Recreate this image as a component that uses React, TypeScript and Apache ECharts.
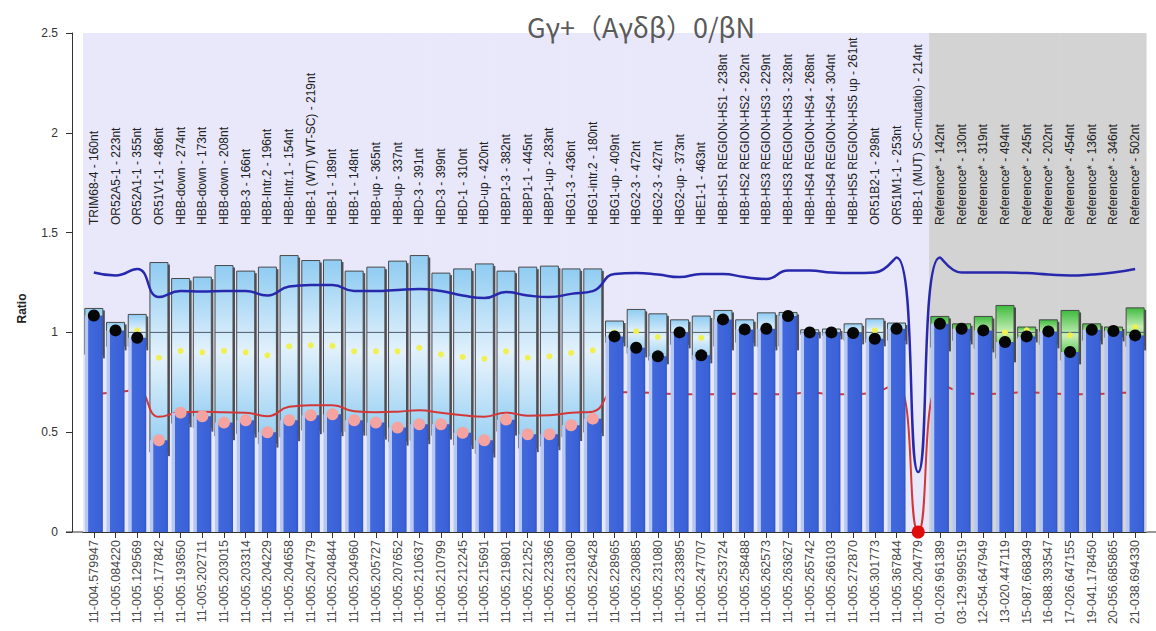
import React, { useEffect, useRef } from 'react';
import * as echarts from 'echarts';

const FONT = '"Liberation Sans", Arial, sans-serif';
const Y_MAX = 2.5;

const probes = [
  'TRIM68-4 - 160nt', 'OR52A5-1 - 223nt', 'OR52A1-1 - 355nt', 'OR51V1-1 - 486nt',
  'HBB-down - 274nt', 'HBB-down - 173nt', 'HBB-down - 208nt', 'HBB-3 - 166nt',
  'HBB-Intr.2 - 196nt', 'HBB-Intr.1 - 154nt', 'HBB-1 (WT) WT-SC) - 219nt', 'HBB-1 - 189nt',
  'HBB-1 - 148nt', 'HBB-up - 365nt', 'HBB-up - 337nt', 'HBD-3 - 391nt',
  'HBD-3 - 399nt', 'HBD-1 - 310nt', 'HBD-up - 420nt', 'HBBP1-3 - 382nt',
  'HBBP1-1 - 445nt', 'HBBP1-up - 283nt', 'HBG1-3 - 436nt', 'HBG1-intr.2 - 180nt',
  'HBG1-up - 409nt', 'HBG2-3 - 472nt', 'HBG2-3 - 427nt', 'HBG2-up - 373nt',
  'HBE1-1 - 463nt', 'HBB-HS1 REGION-HS1 - 238nt', 'HBB-HS2 REGION-HS2 - 292nt', 'HBB-HS3 REGION-HS3 - 229nt',
  'HBB-HS3 REGION-HS3 - 328nt', 'HBB-HS4 REGION-HS4 - 268nt', 'HBB-HS4 REGION-HS4 - 304nt', 'HBB-HS5 REGION-HS5 up - 261nt',
  'OR51B2-1 - 298nt', 'OR51M1-1 - 253nt', 'HBB-1 (MUT) SC-mutatio) - 214nt',
  'Reference* - 142nt', 'Reference* - 130nt', 'Reference* - 319nt', 'Reference* - 494nt',
  'Reference* - 245nt', 'Reference* - 202nt', 'Reference* - 454nt', 'Reference* - 136nt',
  'Reference* - 346nt', 'Reference* - 502nt',
];

const positions = [
  '11-004.579947', '11-005.084220', '11-005.129569', '11-005.177842', '11-005.193650',
  '11-005.202711', '11-005.203015', '11-005.203314', '11-005.204229', '11-005.204658',
  '11-005.204779', '11-005.204844', '11-005.204960', '11-005.205727', '11-005.207652',
  '11-005.210637', '11-005.210799', '11-005.212245', '11-005.215691', '11-005.219801',
  '11-005.221252', '11-005.223366', '11-005.231080', '11-005.226428', '11-005.228965',
  '11-005.230885', '11-005.231080', '11-005.233895', '11-005.247707', '11-005.253724',
  '11-005.258488', '11-005.262573', '11-005.263627', '11-005.265742', '11-005.266103',
  '11-005.272870', '11-005.301773', '11-005.367844', '11-005.204779',
  '01-026.961389', '03-129.999519', '12-054.647949', '13-020.447119', '15-087.668349',
  '16-088.393547', '17-026.647155', '19-041.178450', '20-056.685865', '21-038.694330',
];

// 's' = sample probe, 'r' = reference probe
const groups = [
  's','s','s','s','s','s','s','s','s','s','s','s','s','s','s','s','s','s','s','s',
  's','s','s','s','s','s','s','s','s','s','s','s','s','s','s','s','s','s','s',
  'r','r','r','r','r','r','r','r','r','r',
];

// measured ratio
const ratio = [
  1.085, 1.01, 0.973, 0.46, 0.598, 0.58, 0.548, 0.56, 0.50, 0.56,
  0.585, 0.59, 0.56, 0.548, 0.523, 0.54, 0.54, 0.497, 0.46, 0.563,
  0.49, 0.49, 0.535, 0.568, 0.98, 0.923, 0.88, 1.0, 0.885, 1.065,
  1.015, 1.018, 1.082, 1.0, 1.0, 0.997, 0.968, 1.018, 0,
  1.043, 1.018, 1.01, 0.952, 0.98, 1.005, 0.902, 1.013, 1.007, 0.985,
];

// 'n' normal, 'd' deletion, 'z' zero
const status = [
  'n','n','n','d','d','d','d','d','d','d','d','d','d','d','d','d','d','d','d','d',
  'd','d','d','d','n','n','n','n','n','n','n','n','n','n','n','n','n','n','z',
  'n','n','n','n','n','n','n','n','n','n',
];

const boxLow = [
  0.89, 0.93, 0.93, 0.40, 0.545, 0.523, 0.48, 0.493, 0.443, 0.475,
  0.51, 0.50, 0.503, 0.483, 0.453, 0.46, 0.483, 0.436, 0.393, 0.503,
  0.42, 0.43, 0.476, 0.50, 0.95, 0.895, 0.86, 0.94, 0.865, 0.93,
  0.95, 0.93, 0.93, 0.99, 0.985, 0.96, 0.95, 0.96, null,
  0.925, 0.96, 0.92, 0.87, 0.97, 0.94, 0.86, 0.96, 0.975, 0.93,
];

const boxHigh = [
  1.12, 1.05, 1.09, 1.35, 1.27, 1.277, 1.335, 1.307, 1.327, 1.385,
  1.36, 1.363, 1.307, 1.327, 1.357, 1.385, 1.297, 1.318, 1.343, 1.307,
  1.327, 1.332, 1.318, 1.318, 1.057, 1.115, 1.093, 1.063, 1.082, 1.11,
  1.063, 1.098, 1.10, 1.013, 1.017, 1.043, 1.068, 1.047, null,
  1.08, 1.043, 1.08, 1.135, 1.027, 1.063, 1.11, 1.043, 1.027, 1.123,
];

const boxMean = [
  1.005, 0.99, 1.01, 0.873, 0.907, 0.90, 0.907, 0.90, 0.885, 0.93,
  0.935, 0.932, 0.905, 0.905, 0.905, 0.923, 0.89, 0.877, 0.868, 0.905,
  0.873, 0.88, 0.897, 0.91, 1.0, 1.005, 0.977, 1.0, 0.973, 1.02,
  1.005, 1.015, 1.015, 1.0, 1.0, 1.0, 1.01, 1.003, null,
  1.0, 1.0, 1.0, 1.0, 1.01, 1.0, 0.985, 1.0, 1.0, 1.027,
];

const upperLimit = [
  1.30, 1.285, 1.318, 1.177, 1.207, 1.205, 1.207, 1.207, 1.185, 1.23,
  1.238, 1.238, 1.207, 1.207, 1.213, 1.217, 1.207, 1.185, 1.172, 1.202,
  1.185, 1.177, 1.193, 1.207, 1.293, 1.298, 1.29, 1.277, 1.293, 1.293,
  1.277, 1.268, 1.31, 1.31, 1.30, 1.297, 1.30, 1.375, 0.30,
  1.375, 1.30, 1.30, 1.30, 1.297, 1.29, 1.285, 1.29, 1.30, 1.318,
];

const lowerLimit = [
  0.69, 0.70, 0.71, 0.577, 0.60, 0.603, 0.60, 0.598, 0.58, 0.627,
  0.635, 0.635, 0.605, 0.60, 0.603, 0.61, 0.597, 0.585, 0.578, 0.598,
  0.583, 0.585, 0.597, 0.603, 0.70, 0.70, 0.695, 0.69, 0.69, 0.69,
  0.695, 0.69, 0.69, 0.70, 0.69, 0.69, 0.70, 0.745, 0,
  0.745, 0.70, 0.69, 0.695, 0.70, 0.695, 0.69, 0.69, 0.695, 0.70,
];

const TITLE = 'Gγ+（Aγδβ）0/βN';

function buildOption() {
  const G = echarts.graphic;
  const barGrad = new G.LinearGradient(0, 0, 1, 0, [
    { offset: 0, color: '#b6c8f4' },
    { offset: 0.17, color: '#b6c8f4' },
    { offset: 0.21, color: '#4168dc' },
    { offset: 0.88, color: '#3a61d6' },
    { offset: 1, color: '#2e53c4' },
  ]);
  const boxItems: any[] = [];
  boxLow.forEach((lo, i) => {
    if (lo != null && boxHigh[i] != null) boxItems.push([i, lo, boxHigh[i]]);
  });
  const dots = (s: string) => ratio.map((v, i) => (status[i] === s ? v : '-'));

  return {
    animation: false,
    backgroundColor: '#ffffff',
    title: {
      text: TITLE,
      left: 636,
      top: 8,
      textAlign: 'center',
      textStyle: { fontSize: 27, fontWeight: 'normal', color: '#5a5a5a', fontFamily: '"Noto Sans CJK SC", "Noto Sans", sans-serif' },
    },
    grid: { left: 83, right: 10, top: 33, bottom: 99 },
    xAxis: {
      type: 'category',
      data: positions,
      boundaryGap: true,
      axisLine: { show: true, lineStyle: { color: '#333', width: 1 } },
      axisTick: { show: true, alignWithLabel: true, length: 6, lineStyle: { color: '#333' } },
      axisLabel: { interval: 0, rotate: 90, margin: 8, fontSize: 12.5, color: '#4a4a4a', fontFamily: FONT },
      splitLine: { show: false },
    },
    yAxis: {
      type: 'value',
      min: 0,
      max: Y_MAX,
      interval: 0.5,
      offset: 11,
      name: 'Ratio',
      nameLocation: 'middle',
      nameGap: 44,
      nameTextStyle: { fontWeight: 'bold', fontSize: 12, color: '#222', fontFamily: FONT, padding: [0, 52, 0, 0] },
      axisLine: { show: true, lineStyle: { color: '#333' } },
      axisTick: { show: true, length: 6, lineStyle: { color: '#333' } },
      axisLabel: { margin: 14, fontSize: 12, color: '#333', fontFamily: FONT },
      splitLine: { show: false },
    },
    graphic: [
      { type: 'line', shape: { x1: 66, y1: 532, x2: 83, y2: 532 }, style: { stroke: '#333', lineWidth: 1 }, silent: true },
      { type: 'line', shape: { x1: 1146, y1: 532, x2: 1156, y2: 532 }, style: { stroke: '#333', lineWidth: 1 }, silent: true },
    ],
    series: [
      {
        type: 'custom',
        name: 'bg',
        silent: true,
        z: 0,
        data: probes.map((_, i) => [i, 0]),
        encode: { x: 0, y: 1 },
        renderItem: (params: any, api: any) => {
          const i = api.value(0);
          const top = api.coord([i, Y_MAX]);
          const bot = api.coord([i, 0]);
          const w = api.size([1, 0])[0];
          return {
            type: 'rect',
            shape: { x: top[0] - w / 2, y: top[1], width: w + 0.6, height: bot[1] - top[1] },
            style: { fill: groups[i] === 'r' ? '#d3d3d3' : '#e8e8fa' },
          };
        },
      },
      {
        type: 'custom',
        name: 'probeLabels',
        silent: true,
        z: 6,
        data: probes.map((_, i) => [i, 0]),
        encode: { x: 0, y: 1 },
        renderItem: (params: any, api: any) => {
          const i = api.value(0);
          const p = api.coord([i, 0]);
          const baseY = params.coordSys.y + 192;
          return {
            type: 'text',
            x: p[0],
            y: baseY,
            rotation: Math.PI / 2,
            style: {
              text: probes[i],
              x: 0,
              y: 0,
              align: 'left',
              verticalAlign: 'middle',
              fill: '#222',
              font: '12px ' + FONT,
            },
          };
        },
      },
      {
        type: 'custom',
        name: 'range',
        silent: true,
        z: 1,
        data: boxItems,
        encode: { x: 0, y: [1, 2] },
        renderItem: (params: any, api: any) => {
          const i = api.value(0);
          const lo = api.value(1);
          const hi = api.value(2);
          const pt = api.coord([i, hi]);
          const pb = api.coord([i, lo]);
          const p1 = api.coord([i, 1]);
          const w = 18;
          const x = pt[0] - w / 2;
          const h = pb[1] - pt[1];
          const ref = groups[i] === 'r';
          const fill = ref
            ? new G.LinearGradient(0, 0, 0, 1, [
                { offset: 0, color: '#3fbb3f' },
                { offset: 0.5, color: '#c6efb6' },
                { offset: 1, color: '#3fbb3f' },
              ])
            : new G.LinearGradient(0, 0, 0, 1, [
                { offset: 0, color: '#90ccf2' },
                { offset: 0.5, color: '#e4f2fc' },
                { offset: 1, color: '#90ccf2' },
              ]);
          const children: any[] = [
            { type: 'rect', shape: { x: x + w, y: pt[1] + 2, width: 2, height: h + 2 }, style: { fill: 'rgba(30,30,30,0.75)' } },
            { type: 'rect', shape: { x, y: pt[1], width: w, height: h }, style: { fill, stroke: '#4a4a4a', lineWidth: 1 } },
          ];
          if (lo < 1 && hi > 1) {
            children.push({ type: 'line', shape: { x1: x, y1: p1[1], x2: x + w, y2: p1[1] }, style: { stroke: '#4f5a66', lineWidth: 1 } });
          }
          return { type: 'group', children };
        },
      },
      {
        type: 'scatter',
        name: 'mean',
        silent: true,
        z: 2,
        data: boxMean.map((v) => (v == null ? '-' : v)),
        symbolSize: 6,
        itemStyle: { color: '#f0f050', opacity: 1 },
      },
      {
        type: 'line',
        name: 'upper',
        silent: true,
        z: 3,
        data: upperLimit,
        smooth: 0.5,
        symbol: 'none',
        lineStyle: { color: '#2828ad', width: 2.5 },
      },
      {
        type: 'line',
        name: 'lower',
        silent: true,
        z: 3,
        data: lowerLimit,
        smooth: 0.5,
        symbol: 'none',
        lineStyle: { color: '#d23838', width: 2 },
      },
      {
        type: 'bar',
        name: 'ratio',
        silent: true,
        z: 4,
        data: ratio,
        barWidth: 18,
        itemStyle: { color: barGrad },
      },
      {
        type: 'scatter', name: 'normal', silent: true, z: 5, data: dots('n'), symbolSize: 12,
        itemStyle: { color: '#060606', opacity: 1 },
      },
      {
        type: 'scatter', name: 'deletion', silent: true, z: 5, data: dots('d'), symbolSize: 12,
        itemStyle: { color: '#f4a3a0', opacity: 1 },
      },
      {
        type: 'scatter', name: 'zero', silent: true, z: 5, data: dots('z'), symbolSize: 13,
        itemStyle: { color: '#e00b0b', opacity: 1 },
      },
    ],
  };
}

export default function App() {
  const ref = useRef<HTMLDivElement>(null);
  useEffect(() => {
    if (!ref.current) return;
    const chart = echarts.init(ref.current, undefined, { renderer: 'svg' });
    chart.setOption(buildOption() as any);
    return () => chart.dispose();
  }, []);
  return (
    <div
      ref={ref}
      style={{ position: 'fixed', left: 0, top: 0, width: 1156, height: 631, background: '#fff' }}
    />
  );
}
